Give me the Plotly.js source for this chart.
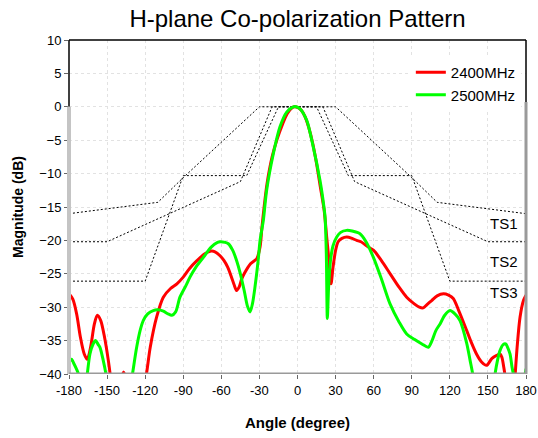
<!DOCTYPE html>
<html>
<head>
<meta charset="utf-8">
<script src="https://cdn.plot.ly/plotly-3.0.1.min.js"></script>
<style>
html,body{margin:0;padding:0;background:#fff;}
#chart{width:538px;height:438px;}
</style>
</head>
<body>
<div id="chart"></div>
<script>
// ---- data ----
const angle2400 = [-180,-177,-174,-171,-168,-165.6,-163,-160,-157.7,-155,-152,-149,-147,-145,-141,-137,-133,-128,-122,-119,-116,-111,-105.7,-100,-95,-90,-85,-79,-73,-68,-65,-61,-58,-55,-52,-50,-48,-46,-44,-42,-37,-32,-29.5,-28,-26,-24,-20,-16,-12,-8,-4,-2,0,3,6,9,12,15,18,21,23,25,26.4,28,30,32,35,38.7,43,46.6,50,55.8,60,66,73,80,86,92,96,99,102,105.7,110,115,119,122.7,127,133.3,137,141,145,149,153,157,159.5,161,162.5,164,166,169,171.3,173,175.3,178,180];
const mag2400   = [-28,-28.8,-31,-34.5,-37,-37.8,-36,-32.5,-31.2,-32,-34.5,-38,-41,-45,-42,-39.7,-42,-46,-43,-40,-36,-31.5,-28.5,-27.2,-26.5,-25.5,-24.2,-23,-22,-21.6,-21.7,-22.3,-23,-24,-25.5,-26.6,-27.5,-27,-25.8,-25,-23.5,-22.7,-21,-18,-14.5,-11.5,-7.5,-4.8,-2.7,-1,-0.1,0,-0.1,-0.5,-1.5,-3.2,-5.5,-8.5,-12,-15.5,-19.5,-23.5,-26.5,-24,-21.5,-20.2,-19.7,-19.5,-19.7,-20,-20.2,-21,-21.5,-23,-25,-27,-28.5,-29.5,-30,-30.1,-29.6,-29,-28.3,-28,-28.2,-28.7,-30.5,-33.5,-35.3,-37,-38.2,-38.7,-37.7,-37.2,-37,-37.5,-39,-41,-46,-46,-40.5,-36,-31.5,-29,-28.2];

const angle2500 = [-180,-178,-176,-174,-172.6,-170,-167,-165.6,-163.5,-161,-159,-157,-155.6,-153,-150.9,-148,-135,-130,-126.7,-124,-121.5,-118,-113.6,-110,-105.7,-102,-99,-96,-92.6,-88,-84.7,-80,-74,-68,-63,-61,-57,-54.5,-51,-48,-45,-42,-39.5,-37.4,-35.5,-33.5,-31,-29.5,-28.2,-26.9,-24.3,-19,-13.8,-8.5,-3.3,-1,2,7.2,12.4,17.7,20,21.7,22.7,23.5,24.5,26,28,30.9,34,38.7,43,49.2,54,59.7,66,72.9,80,86,92,98,103,106,109,112.3,116,120.1,124,128,133.3,136,138,141,152,155.6,157.5,159.5,162,164,165.5,167.4,169,170,172,177,179,180];
const mag2500   = [-38.2,-37.8,-38.5,-39.3,-40,-43,-42,-40,-37,-35.5,-35,-35.6,-36,-38,-40,-44,-46,-40,-36,-33.5,-32,-31,-30.5,-30.4,-30.6,-31,-31.2,-30.7,-28.5,-26.8,-25.5,-24,-22.5,-21,-20.3,-20.2,-20.3,-20.5,-21.5,-23,-25,-27.5,-29.8,-30.7,-29.5,-27,-23,-20,-18.5,-17,-12.5,-7,-3,-0.8,0,0,-0.3,-2,-6,-11,-13.8,-16.5,-22,-31.7,-27,-23,-20.8,-19.5,-18.8,-18.5,-18.6,-19,-20.2,-22.5,-25.7,-29.5,-32.2,-34,-34.8,-35.5,-36,-35,-33.5,-32.5,-31.2,-30.5,-31,-32,-35.4,-38,-40,-45,-45,-40,-38,-36.5,-35.6,-35.5,-36,-37,-39,-40,-45,-44,-40.5,-39.2];

// tolerance masks (dotted)
const ts1Angle = [-180,-110,-90,-30,30,90,110,180];
const ts1Mag   = [-16,-14.3,-10.6,0,0,-10.6,-14.3,-16];
const ts2Angle = [-180,-150,-45,-20,20,45,150,180];
const ts2Mag   = [-20.2,-20.2,-11.2,0,0,-11.2,-20.2,-20.2];
const ts3Angle = [-180,-120,-90,-40,-15,15,40,90,120,180];
const ts3Mag   = [-26.1,-26.1,-10.3,-10.3,0,0,-10.3,-10.3,-26.1,-26.1];

const seriesNames = ['2400MHz','2500MHz'];
const maskLabels = ['TS1','TS2','TS3'];
const maskLabelY = [-17.5,-23.1,-27.8];

const xTicks = [-180,-150,-120,-90,-60,-30,0,30,60,90,120,150,180];
const yTicks = [10,5,0,-5,-10,-15,-20,-25,-30,-35,-40];

const FONT = 'Liberation Sans, Arial, sans-serif';
const maskLine = {color:'#000', width:1, dash:'2px,2px'};

const traces = [
  {x:ts1Angle, y:ts1Mag, mode:'lines', line:maskLine, showlegend:false, hoverinfo:'skip'},
  {x:ts2Angle, y:ts2Mag, mode:'lines', line:maskLine, showlegend:false, hoverinfo:'skip'},
  {x:ts3Angle, y:ts3Mag, mode:'lines', line:maskLine, showlegend:false, hoverinfo:'skip'},
  {x:angle2400, y:mag2400, name:seriesNames[0], mode:'lines', line:{color:'#ff0000', width:3, shape:'spline', smoothing:0.8}},
  {x:angle2500, y:mag2500, name:seriesNames[1], mode:'lines', line:{color:'#00ff00', width:3, shape:'spline', smoothing:0.8}}
];

const shapes = [
  // black upper frame
  {type:'line', xref:'paper', yref:'paper', x0:0, x1:1, y0:1, y1:1, line:{color:'#000', width:1.5}, layer:'above'},
  {type:'line', xref:'paper', yref:'y', x0:0, x1:0, y0:10, y1:0, line:{color:'#000', width:1.5}, layer:'above'},
  {type:'line', xref:'paper', yref:'y', x0:1, x1:1, y0:10, y1:0.7, line:{color:'#000', width:1.5}, layer:'above'},
  // grey lower frame
  {type:'line', xref:'paper', yref:'y', x0:0, x1:0, y0:0, y1:-40, line:{color:'#c4c4c4', width:4}, layer:'above'},
  {type:'line', xref:'paper', yref:'y', x0:1, x1:1, y0:0.7, y1:-40, line:{color:'#9a9a9a', width:3}, layer:'above'},
  {type:'line', xref:'paper', yref:'y', x0:0, x1:1, y0:-40, y1:-40, line:{color:'#9a9a9a', width:3}, layer:'above'}
];

const annotations = maskLabels.map((t,i)=>({
  x:175, y:maskLabelY[i], xref:'x', yref:'y', text:t, showarrow:false,
  xanchor:'right', yanchor:'middle', font:{family:FONT, size:15, color:'#000'}, bgcolor:'rgba(255,255,255,0)'
}));

const layout = {
  width:538, height:438,
  margin:{l:69, r:12, t:40, b:64},
  paper_bgcolor:'#fff', plot_bgcolor:'#fff',
  font:{family:FONT, color:'#000'},
  title:{text:'H-plane Co-polarization Pattern', x:0.5, xref:'paper', y:0.957, yanchor:'middle', font:{family:FONT, size:24, color:'#000'}},
  xaxis:{range:[-180,180], tickvals:xTicks, ticktext:xTicks.map(String), showgrid:true, gridcolor:'#e2e2e2', griddash:'dot', gridwidth:1,
         zeroline:false, showline:false, ticks:'outside', ticklen:4, tickcolor:'#666', tickfont:{family:FONT, size:13},
         title:{text:'<b>Angle (degree)</b>', font:{family:FONT, size:15}, standoff:20}},
  yaxis:{range:[-40,10], tickvals:yTicks, showgrid:true, gridcolor:'#e2e2e2', griddash:'dot', gridwidth:1,
         zeroline:false, showline:false, ticks:'outside', ticklen:4, tickcolor:'#666', tickfont:{family:FONT, size:13},
         title:{text:'<b>Magnitude (dB)</b>', font:{family:FONT, size:14}, standoff:12}},
  legend:{x:0.748, y:0.952, xanchor:'left', yanchor:'top', bgcolor:'#fff', borderwidth:0, font:{family:FONT, size:15}, tracegroupgap:0},
  shapes:shapes,
  annotations:annotations,
  showlegend:true
};

Plotly.newPlot('chart', traces, layout, {staticPlot:true, displayModeBar:false});
</script>
</body>
</html>
